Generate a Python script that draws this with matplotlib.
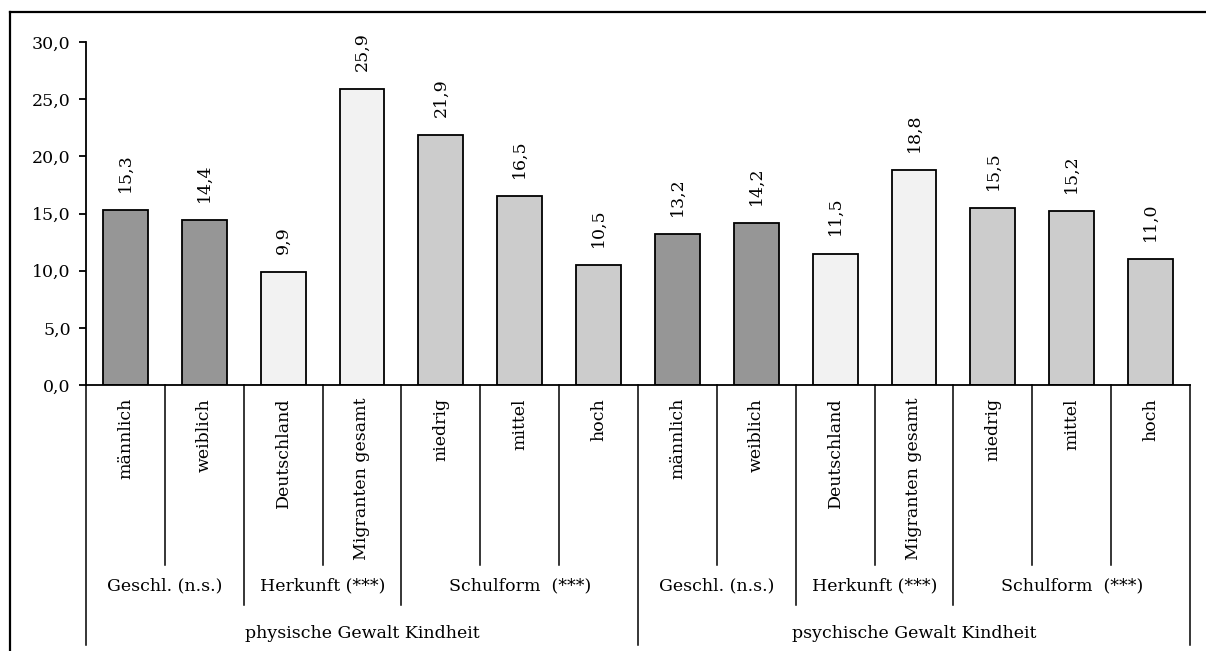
import numpy as np
import matplotlib
matplotlib.use("Agg")
import matplotlib.pyplot as plt
from matplotlib.lines import Line2D
import matplotlib.transforms as mtransforms

plt.rcParams['font.family'] = ['DejaVu Serif']

# Daten
kategorien = ['männlich', 'weiblich', 'Deutschland', 'Migranten gesamt',
              'niedrig', 'mittel', 'hoch']
gruppen = ['Geschl. (n.s.)', 'Herkunft (***)', 'Schulform  (***)']
gruppen_groesse = [2, 2, 3]
oberkategorien = ['physische Gewalt Kindheit', 'psychische Gewalt Kindheit']
physisch = [15.3, 14.4, 9.9, 25.9, 21.9, 16.5, 10.5]
psychisch = [13.2, 14.2, 11.5, 18.8, 15.5, 15.2, 11.0]
farben_gruppe = ['#969696', '#F2F2F2', '#CCCCCC']

werte = physisch + psychisch
labels = kategorien * 2
farben = []
for _ in oberkategorien:
    for f, n in zip(farben_gruppe, gruppen_groesse):
        farben += [f] * n

W, H = 1206, 651
fig = plt.figure(figsize=(W / 100, H / 100), dpi=100)
ax_left, ax_right, ax_top, ax_bottom = 86, 1190, 42, 385
ax = fig.add_axes([ax_left / W, 1 - ax_bottom / H,
                   (ax_right - ax_left) / W, (ax_bottom - ax_top) / H])

x = np.arange(len(werte))
bars = ax.bar(x, werte, width=0.57, color=farben, edgecolor='black', linewidth=1.3)
for xi, v in zip(x, werte):
    ax.annotate(f'{v:.1f}'.replace('.', ','), (xi, v), xytext=(0, 13),
                textcoords='offset points', rotation=90, ha='center', va='bottom',
                fontsize=12.5)

ax.set_xlim(-0.5, len(werte) - 0.5)
ax.set_ylim(0, 30)
ax.set_yticks(np.arange(0, 31, 5))
ax.set_yticklabels([f'{t:.1f}'.replace('.', ',') for t in np.arange(0, 31, 5)], fontsize=12.5)
ax.tick_params(axis='y', length=5, width=1.3, pad=6)
ax.set_xticks([])
for s in ['top', 'right']:
    ax.spines[s].set_visible(False)
ax.spines['left'].set_linewidth(1.3)
ax.spines['bottom'].set_linewidth(1.3)

# mehrstufige Kategorienachse
trans = mtransforms.blended_transform_factory(ax.transData, ax.transAxes)
hoehe = ax_bottom - ax_top
def ay(py):
    return (ax_bottom - py) / hoehe

def trenner(xpos, py_end):
    ax.add_line(Line2D([xpos, xpos], [0, ay(py_end)], transform=trans,
                       color='black', linewidth=1.1, clip_on=False))

for i, lab in enumerate(labels):
    ax.text(i, ay(398), lab, transform=trans, rotation=90, ha='center', va='top',
            fontsize=12.5)

n = len(kategorien)
for k, ober in enumerate(oberkategorien):
    start = k * n
    trenner(start - 0.5, 645)
    pos = start
    for g, gn in zip(gruppen, gruppen_groesse):
        if pos != start:
            trenner(pos - 0.5, 605)
        for j in range(1, gn):
            trenner(pos + j - 0.5, 565)
        ax.text(pos + (gn - 1) / 2, ay(586), g, transform=trans, ha='center',
                va='center', fontsize=12.5)
        pos += gn
    ax.text(start + (n - 1) / 2, ay(633), ober, transform=trans, ha='center',
            va='center', fontsize=12.5)
trenner(len(werte) - 0.5, 645)

# Rahmen
fig.add_artist(Line2D([10 / W, 10 / W], [0, 1 - 12 / H], color='black', linewidth=1.6))
fig.add_artist(Line2D([10 / W, 1], [1 - 12 / H, 1 - 12 / H], color='black', linewidth=1.6))

fig.savefig('out.png', dpi=100)
